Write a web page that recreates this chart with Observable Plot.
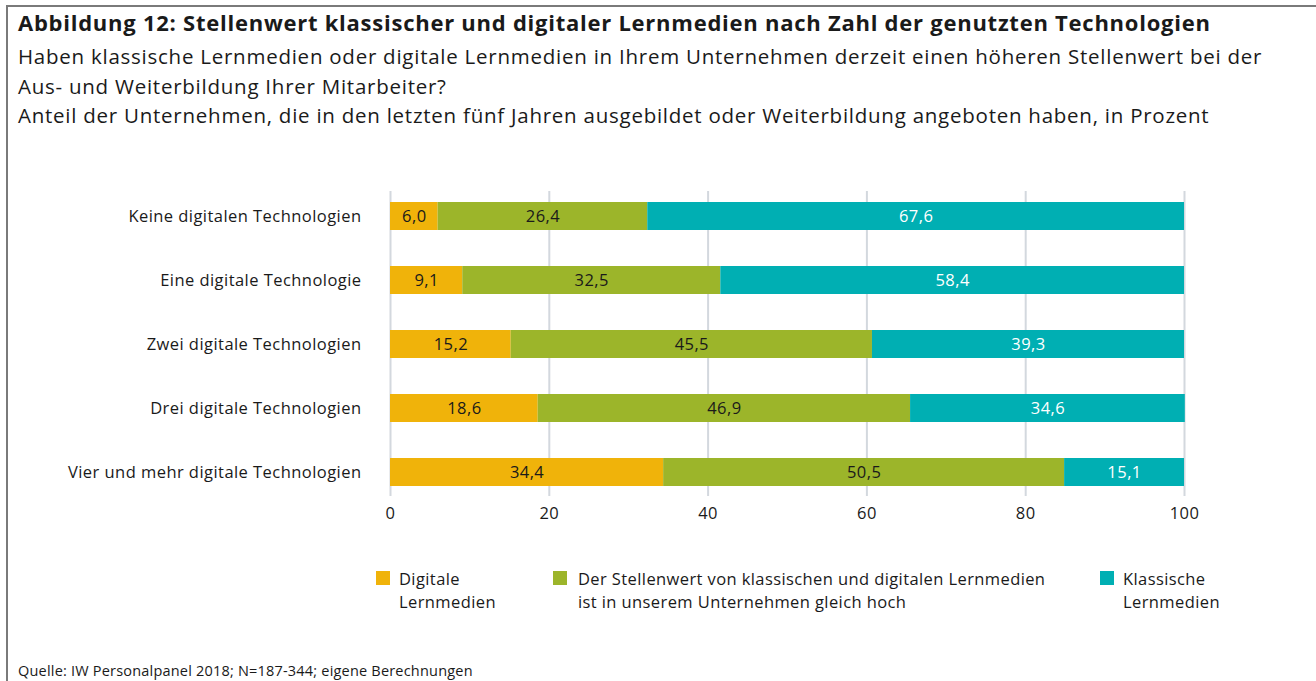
<!DOCTYPE html>
<html>
<head>
<meta charset="utf-8">
<script src="https://cdn.jsdelivr.net/npm/d3@7"></script>
<script src="https://cdn.jsdelivr.net/npm/@observablehq/plot@0.6"></script>
<style>
  html, body { margin: 0; padding: 0; background: #fff; }
  body { width: 1316px; height: 681px; position: relative; overflow: hidden; font-family: "Open Sans", sans-serif; color: #1a1a1a; }
  #frame { position: absolute; left: 6px; top: 5px; width: 1400px; height: 800px; border-left: 2px solid #7a7a7a; border-top: 2px solid #7a7a7a; }
  .abs { position: absolute; white-space: nowrap; }
  #title { left: 18px; top: 7px; font-size: 22px; letter-spacing: 0.75px; font-weight: 700; line-height: 30px; }
  #sub { left: 18px; top: 42px; font-size: 20.5px; letter-spacing: 0.75px; line-height: 29.5px; }
  #chart { position: absolute; left: 0; top: 171px; }
  .leg { position: absolute; top: 567px; font-size: 16.5px; letter-spacing: 0.4px; line-height: 23px; }
  .sw { position: absolute; width: 14px; height: 14px; top: 571px; }
  #source { left: 18px; top: 661px; font-size: 14.5px; letter-spacing: 0.2px; line-height: 20px; }
</style>
</head>
<body>
<div id="frame"></div>
<div id="title" class="abs"></div>
<div id="sub" class="abs"></div>
<div id="chart"></div>
<div id="legend"></div>
<div id="source" class="abs"></div>
<script>
const categories = [
  "Keine digitalen Technologien",
  "Eine digitale Technologie",
  "Zwei digitale Technologien",
  "Drei digitale Technologien",
  "Vier und mehr digitale Technologien"
];
const seriesNames = [
  "Digitale Lernmedien",
  "Der Stellenwert von klassischen und digitalen Lernmedien ist in unserem Unternehmen gleich hoch",
  "Klassische Lernmedien"
];
const digitalValues = [6.0, 9.1, 15.2, 18.6, 34.4];
const equalValues = [26.4, 32.5, 45.5, 46.9, 50.5];
const classicValues = [67.6, 58.4, 39.3, 34.6, 15.1];
const seriesColors = ["#F0B30A", "#9CB52A", "#00AFB3"];
const xTicks = [0, 20, 40, 60, 80, 100];

const titleText = "Abbildung 12: Stellenwert klassischer und digitaler Lernmedien nach Zahl der genutzten Technologien";
const subtitleLines = [
  "Haben klassische Lernmedien oder digitale Lernmedien in Ihrem Unternehmen derzeit einen höheren Stellenwert bei der",
  "Aus- und Weiterbildung Ihrer Mitarbeiter?",
  "Anteil der Unternehmen, die in den letzten fünf Jahren ausgebildet oder Weiterbildung angeboten haben, in Prozent"
];
const legendLines = [
  ["Digitale", "Lernmedien"],
  ["Der Stellenwert von klassischen und digitalen Lernmedien", "ist in unserem Unternehmen gleich hoch"],
  ["Klassische", "Lernmedien"]
];
const sourceText = "Quelle: IW Personalpanel 2018; N=187-344; eigene Berechnungen";

document.getElementById("title").textContent = titleText;
document.getElementById("sub").innerHTML = subtitleLines.join("<br>");
document.getElementById("source").textContent = sourceText;

const allValues = [digitalValues, equalValues, classicValues];
const data = [];
categories.forEach((c, i) => {
  seriesNames.forEach((s, j) => {
    data.push({category: c, series: s, value: allValues[j][i], idx: j});
  });
});

const fmt = v => d3.format(".1f")(v).replace(".", ",");

const chart = Plot.plot({
  width: 1316,
  height: 365,
  marginLeft: 390,
  marginRight: 132,
  marginTop: 20,
  marginBottom: 40,
  style: {fontFamily: "'Open Sans', sans-serif", fontSize: "16.5px", letterSpacing: "0.45px", color: "#1a1a1a", background: "transparent"},
  x: {domain: [0, 100], ticks: xTicks},
  y: {domain: categories, paddingInner: 0.5625, paddingOuter: 0.164, label: null},
  color: {domain: seriesNames, range: seriesColors},
  marks: [
    Plot.gridX(xTicks, {stroke: "#d3d8de", strokeOpacity: 1, strokeWidth: 2}),
    Plot.barX(data, {x: "value", y: "category", fill: "series", order: seriesNames}),
    Plot.textX(data, Plot.stackX({
      x: "value", y: "category", z: "series", order: seriesNames,
      text: d => fmt(d.value),
      fill: d => d.idx === 2 ? "#ffffff" : "#1a1a1a",
      fontSize: 16.5
    })),
    Plot.axisX(xTicks, {tickSize: 0, tickPadding: 11, label: null, fontSize: 16.5, tickFormat: d => String(d)}),
    Plot.axisY({tickSize: 0, tickPadding: 29, label: null, fontSize: 16.5})
  ]
});
document.getElementById("chart").appendChild(chart);

const legend = document.getElementById("legend");
const legX = [376, 553, 1100];
const legTextX = [399, 578, 1123];
seriesNames.forEach((s, j) => {
  const sw = document.createElement("div");
  sw.className = "sw";
  sw.style.left = legX[j] + "px";
  sw.style.background = seriesColors[j];
  legend.appendChild(sw);
  const t = document.createElement("div");
  t.className = "leg abs";
  t.style.left = legTextX[j] + "px";
  t.innerHTML = legendLines[j].join("<br>");
  legend.appendChild(t);
});
</script>
</body>
</html>
